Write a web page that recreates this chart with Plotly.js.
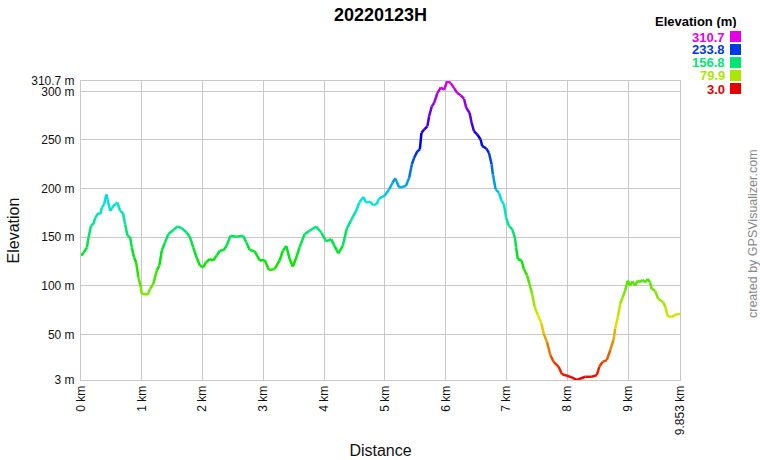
<!DOCTYPE html>
<html>
<head>
<meta charset="utf-8">
<script src="https://cdn.plot.ly/plotly-3.0.1.min.js"></script>
<style>html,body{margin:0;padding:0;background:#fff;}#chart{width:760px;height:460px;}</style>
</head>
<body>
<div id="chart"></div>
<script>
const distKm = [0,0.043,0.098,0.125,0.164,0.207,0.234,0.289,0.316,0.344,0.382,0.415,0.436,0.480,0.508,0.562,0.600,0.644,0.689,0.726,0.764,0.808,0.836,0.874,0.907,0.944,0.984,1.000,1.098,1.136,1.190,1.246,1.289,1.328,1.382,1.436,1.518,1.584,1.656,1.738,1.792,1.846,1.902,1.956,2.010,2.054,2.120,2.174,2.230,2.284,2.349,2.393,2.459,2.557,2.666,2.721,2.775,2.857,2.939,3.021,3.092,3.157,3.185,3.267,3.321,3.377,3.431,3.485,3.541,3.595,3.677,3.759,3.869,3.951,4.033,4.115,4.169,4.234,4.305,4.370,4.443,4.525,4.579,4.644,4.689,4.754,4.808,4.862,4.907,4.989,5.070,5.125,5.169,5.234,5.344,5.398,5.443,5.480,5.534,5.574,5.600,5.644,5.698,5.726,5.770,5.808,5.862,5.918,5.972,6.026,6.082,6.136,6.190,6.246,6.300,6.338,6.393,6.426,6.464,6.518,6.574,6.600,6.666,6.710,6.754,6.775,6.820,6.874,6.918,6.956,6.993,7.038,7.092,7.136,7.157,7.185,7.246,7.284,7.338,7.377,7.420,7.464,7.518,7.574,7.611,7.666,7.721,7.775,7.857,7.911,7.993,8.075,8.157,8.295,8.403,8.485,8.525,8.579,8.649,8.705,8.759,8.787,8.830,8.869,8.911,8.951,8.993,9.033,9.070,9.115,9.157,9.197,9.234,9.279,9.321,9.361,9.387,9.443,9.493,9.574,9.613,9.652,9.718,9.790,9.853];
const elevM = [131,134,139.5,150,161.7,164,170,175,173.6,180.4,184,194,189,177,180,184,185.6,177,175,163.4,151.4,150,139.5,129,124,108.7,98.5,91.7,91,96.8,102,115.6,120.7,136,144.6,153,157.3,161,159.3,154.8,150,139.5,129,120.7,119,124,127.5,126,131,136,136.8,141,151.4,150.4,151.4,144.6,136.8,135.4,126,126.6,116.3,116.6,117.3,126,136,141,127.5,119.7,129,139.5,153,156.6,161,154.8,145.6,148,141,133.3,141,158.3,167.5,177,185.6,191.4,185.6,186.6,183,184,190,192.4,199.3,206,210.5,201,202.7,211.2,225,231.7,238.5,240.3,257.3,260.8,264,274.4,284.6,288,298.3,304,301.7,310.7,308.5,303.4,298.3,296,292.5,283,277.8,267.5,259,255.6,250.5,243.6,241.3,236.8,225,214.7,199.3,195.8,187.3,184,170.2,161.7,158.3,150,139.5,127.5,126,117.3,110.5,102,91.7,78,69.5,61,50.7,42,28.5,21.7,16.6,9,7.4,5.7,3.0,6.3,6.3,8,16.6,21.7,23.4,33.7,44,56,67.9,81.4,88.2,95,105.3,100.2,104.6,100.2,105.3,103.6,106,103.6,107,103.6,96.8,95,86.6,83.2,78,68.5,67.9,70.6,71];
const yTickVals = [3,50,100,150,200,250,300,310.7];
const yTickText = ["3 m","50 m","100 m","150 m","200 m","250 m","300 m","310.7 m"];
const xTickVals = [0,1,2,3,4,5,6,7,8,9,9.853];
const xTickText = ["0 km","1 km","2 km","3 km","4 km","5 km","6 km","7 km","8 km","9 km","9.853 km"];
const legendVals = [310.7,233.8,156.8,79.9,3.0];
const elevMin = 3.0, elevMax = 310.7;

function elevColor(e){
  const h = Math.max(0, Math.min(300, (e - elevMin) / (elevMax - elevMin) * 300));
  return 'hsl(' + h.toFixed(1) + ',100%,45%)';
}

const traces = [];
for (let i = 0; i < distKm.length - 1; i++) {
  traces.push({
    type: 'scatter', mode: 'lines',
    x: [distKm[i], distKm[i+1]],
    y: [elevM[i], elevM[i+1]],
    line: {color: elevColor((elevM[i] + elevM[i+1]) / 2), width: 2.5},
    hoverinfo: 'skip', showlegend: false
  });
}

const W = 760, H = 460, mL = 81, mR = 80, mT = 81, mB = 80;
const pw = W - mL - mR, ph = H - mT - mB;
function px2paperX(px){ return (px - mL) / pw; }
function py2paperY(py){ return (H - mB - py) / ph; }

const annotations = [
  {text: '<b>Elevation (m)</b>', xref: 'paper', yref: 'paper', x: px2paperX(738), y: py2paperY(22), xanchor: 'right', yanchor: 'middle', showarrow: false, borderpad: 0, height: 13, font: {family: 'Liberation Sans, Arial', size: 13, color: '#000'}},
  {text: 'created by GPSVisualizer.com', xref: 'paper', yref: 'paper', x: px2paperX(753), y: py2paperY(234), xanchor: 'center', yanchor: 'middle', showarrow: false, textangle: -90, font: {family: 'Liberation Sans, Arial', size: 12.5, color: '#888'}}
];
const shapes = [];
legendVals.forEach((v, k) => {
  const cy = 36.5 + k * 13;
  annotations.push({text: '<b>' + v.toFixed(1) + '</b>', xref: 'paper', yref: 'paper', x: px2paperX(726), y: py2paperY(cy), xanchor: 'right', yanchor: 'middle', showarrow: false, borderpad: 0, height: 12, font: {family: 'Liberation Sans, Arial', size: 13, color: elevColor(v)}});
  shapes.push({type: 'rect', xref: 'paper', yref: 'paper', x0: px2paperX(730), x1: px2paperX(741), y0: py2paperY(cy + 5.5), y1: py2paperY(cy - 5.5), fillcolor: elevColor(v), line: {width: 0}});
});

const layout = {
  width: W, height: H,
  margin: {l: mL, r: mR, t: mT, b: mB, pad: 0},
  paper_bgcolor: '#fff', plot_bgcolor: '#fff',
  font: {family: 'Liberation Sans, Arial, sans-serif', color: '#111'},
  title: {text: '<b>20220123H</b>', x: 0.5, xref: 'paper', y: 1 - 15/460, yanchor: 'middle', font: {size: 18, color: '#000'}},
  showlegend: false,
  xaxis: {
    range: [0, 9.853], tickmode: 'array', tickvals: xTickVals, ticktext: xTickText,
    tickangle: -90, tickfont: {size: 12, color: '#111'},
    showgrid: true, gridcolor: '#c8c8c8', gridwidth: 1, zeroline: false,
    showline: true, linecolor: '#c8c8c8', linewidth: 1, mirror: true, ticks: '',
    title: {text: 'Distance', font: {size: 16, color: '#111'}, standoff: 10}
  },
  yaxis: {
    range: [3, 310.7], tickmode: 'array', tickvals: yTickVals, ticktext: yTickText,
    tickfont: {size: 12, color: '#111'}, ticklabelstandoff: 3,
    showgrid: true, gridcolor: '#c8c8c8', gridwidth: 1, zeroline: false,
    showline: true, linecolor: '#c8c8c8', linewidth: 1, mirror: true, ticks: '',
    title: {text: 'Elevation', font: {size: 16, color: '#111'}, standoff: 7}
  },
  annotations: annotations,
  shapes: shapes
};

Plotly.newPlot('chart', traces, layout, {displayModeBar: false, staticPlot: true});
</script>
</body>
</html>
